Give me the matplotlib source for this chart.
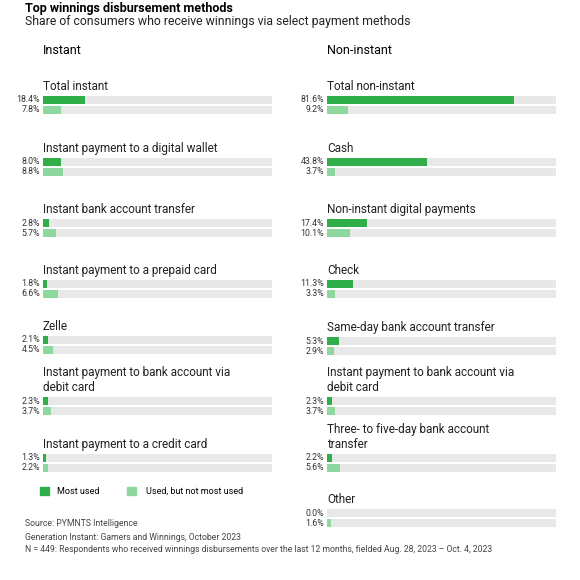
import matplotlib.pyplot as plt

plt.rcParams['font.family'] = ['Roboto', 'DejaVu Sans']

left_labels = ["Total instant", "Instant payment to a digital wallet", "Instant bank account transfer",
               "Instant payment to a prepaid card", "Zelle",
               "Instant payment to bank account via\ndebit card", "Instant payment to a credit card"]
left_most = [18.4, 8.0, 2.8, 1.8, 2.1, 2.3, 1.3]
left_not = [7.8, 8.8, 5.7, 6.6, 4.5, 3.7, 2.2]
left_top = [86, 148, 209, 270, 326, 372, 444]

right_labels = ["Total non-instant", "Cash", "Non-instant digital payments", "Check",
                "Same-day bank account transfer", "Instant payment to bank account via\ndebit card",
                "Three- to five-day bank account\ntransfer", "Other"]
right_most = [81.6, 43.8, 17.4, 11.3, 5.3, 2.3, 2.2, 0.0]
right_not = [9.2, 3.7, 10.1, 3.3, 2.9, 3.7, 5.6, 1.6]
right_top = [86, 148, 209, 270, 327, 372, 429, 499]

DARK = "#2fae4a"
LIGHT = "#8ed8a0"
TRACK = "#e8e8e8"

fig = plt.figure(figsize=(5.8, 5.8), dpi=100)
ax = fig.add_axes([0, 0, 1, 1])
ax.set_xlim(0, 580)
ax.set_ylim(580, 0)
ax.axis('off')

W = 229

def column(x0, labels, most, notm, tops):
    for lab, m, n, t in zip(labels, most, notm, tops):
        ax.text(x0, t - 6, lab, fontsize=8.5, va='top', ha='left', color='#222', linespacing=1.2)
        nl = lab.count("\n")
        y1 = t + 14 + nl * 15
        y2 = y1 + 10
        for y, v, c in ((y1, m, DARK), (y2, n, LIGHT)):
            ax.barh(y, W, left=x0, height=8, color=TRACK)
            ax.barh(y, v / 100 * W, left=x0, height=8, color=c)
            ax.text(x0 - 3, y, f"{v:.1f}%", fontsize=6.3, ha='right', va='center', color='#333')

column(43, left_labels, left_most, left_not, left_top)
column(327, right_labels, right_most, right_not, right_top)

ax.text(25, 2, "Top winnings disbursement methods", fontsize=9, fontweight='bold', va='top')
ax.text(25, 15, "Share of consumers who receive winnings via select payment methods", fontsize=8.8, va='top', color='#222')
ax.text(43, 44, "Instant", fontsize=9, va='top')
ax.text(327, 44, "Non-instant", fontsize=9, va='top')

ax.add_patch(plt.Rectangle((40, 487), 9, 8, color=DARK))
ax.text(57, 491, "Most used", fontsize=6.5, va='center')
ax.add_patch(plt.Rectangle((127, 487), 9, 8, color=LIGHT))
ax.text(146, 491, "Used, but not most used", fontsize=6.5, va='center')

foot = ["Source: PYMNTS Intelligence", "Generation Instant: Gamers and Winnings, October 2023",
        "N = 449: Respondents who received winnings disbursements over the last 12 months, fielded Aug. 28, 2023 \u2013 Oct. 4, 2023"]
for i, s in enumerate(foot):
    ax.text(25, 524 + i * 13, s, fontsize=6.2, va='center', color='#444')

fig.savefig("out.png", dpi=100)
